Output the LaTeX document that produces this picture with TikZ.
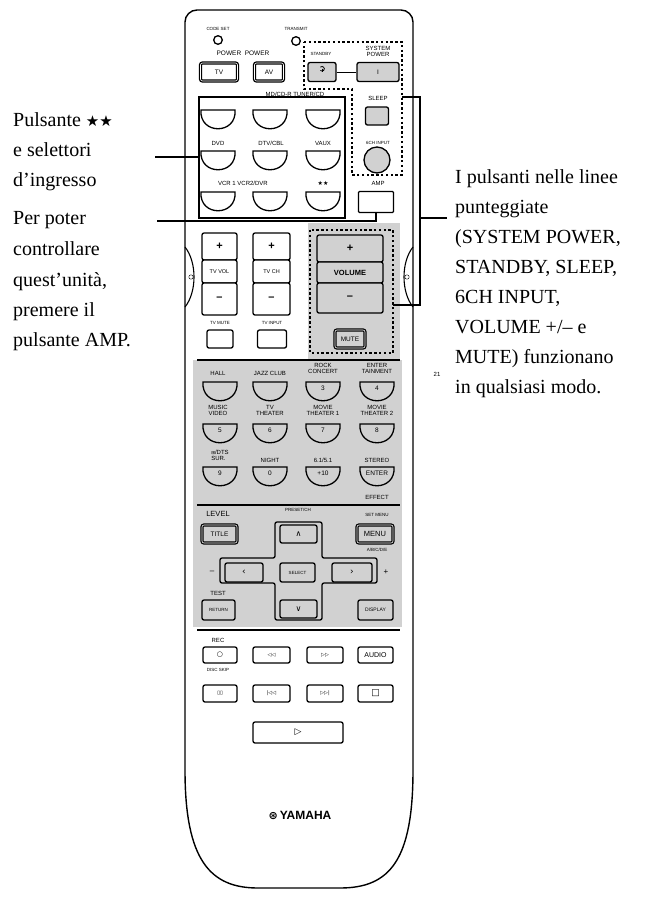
\documentclass[tikz,border=0pt]{standalone}
\usetikzlibrary{calc}
\usepackage{fontspec}
\setmainfont{Liberation Serif}
\setsansfont{Liberation Sans}
\newfontfamily\djv{DejaVu Sans}
\definecolor{g}{gray}{0.82}
\begin{document}
\begin{tikzpicture}[x=1pt,y=-1pt,
  lbl/.style={font=\sffamily\fontsize{6}{6}\selectfont, inner sep=0},
  rb/.style={draw, line width=1.3pt, rounded corners=2pt, fill=white, font=\sffamily\fontsize{6.5}{6.5}\selectfont, inner sep=0},
  big/.style={font=\sffamily\fontsize{11}{11}\selectfont\bfseries},
  callout/.style={line width=1.3pt},
  dots/.style={line width=2pt, dash pattern=on 2.4pt off 2.4pt},
  txt/.style={font=\fontsize{20}{22}\selectfont, anchor=base west, inner sep=0},
  ubs/.style={line width=1.3pt}]
\useasboundingbox (0,0) rectangle (648,903);
\newcommand\ub[3]{\draw[ubs,fill=#3] ({#1-17},#2) -- ({#1+17},#2) .. controls ({#1+19},{#2+25}) and ({#1-19},{#2+25}) .. cycle;}
% body
\draw[line width=1.4pt] (413,770) [rounded corners=12pt]-- (413,10) -- (185,10) [sharp corners]-- (185,770)
  .. controls (185,860) and (210,888) .. (258,888) -- (340,888) .. controls (390,888) and (413,860) .. (413,770);
% grey areas
\fill[g] (308,223) rectangle (400,360);
\fill[g] (193,360) rectangle (402,627);
% side notches
\draw[line width=1.1pt] (185,247) .. controls (197,262) and (197,292) .. (185,307);
\draw (191,277) circle (2.2);
\draw[line width=1.1pt] (413,247) .. controls (401,262) and (401,292) .. (413,307);
\draw (407,277) circle (2.2);
% top
\node[lbl,font=\sffamily\fontsize{4.5}{4.5}\selectfont] (cs) at (218,29) {CODE SET};
\draw[line width=1.3pt] (218,40) circle (4.3);
\node[lbl,font=\sffamily\fontsize{4.5}{4.5}\selectfont] (tr) at (296,29) {TRANSMIT};
\draw[line width=1.3pt] (296,41) circle (4.3);
\node[lbl,font=\sffamily\fontsize{6.5}{6.5}\selectfont] (pp) at (243,53) {POWER\ \ POWER};
\node[rb,minimum width=37,minimum height=18,double,double distance=0.6pt] (tv) at (219,72) {TV};
\node[rb,minimum width=29,minimum height=18,double,double distance=0.6pt] (av) at (269,72) {AV};
\node[lbl,font=\sffamily\fontsize{4.5}{4.5}\selectfont] (sbl) at (321,54) {STANDBY};
\node[lbl,align=center] (spl) at (378,51) {SYSTEM\\POWER};
\node[rb,fill=g,minimum width=28,minimum height=19] (sb) at (322,72) {};
\draw[line width=0.8pt] ($(sb)+(-1.6,-1.6)$) arc (135:-135:2.3);
\draw[line width=0.8pt] ($(sb)+(0,-3.5)$) -- ($(sb)+(0,-0.5)$);
\node[rb,fill=g,minimum width=42,minimum height=19] (sp) at (378,72) {I};
\draw (sb) -- (sp);
\draw[dots] (304,42) -- (402,42) -- (402,175) -- (352,175) -- (352,89) -- (304,89) -- cycle;
% input selector box
\draw[line width=1.6pt] (199,97) rectangle (345,218);
\node[lbl] (l1) at (295,94) {MD/CD-R TUNER/CD};
\node[lbl] (l2a) at (218,143) {DVD};
\node[lbl] (l2b) at (271,143) {DTV/CBL};
\node[lbl] (l2c) at (323,143) {VAUX};
\node[lbl] (l3a) at (243,183) {VCR 1 VCR2/DVR};
\node[lbl] (l3c) at (323,183) {\djv\fontsize{6}{6}\selectfont ★★};
\foreach \x in {218,270,323}{\ub{\x}{110}{white}\ub{\x}{151}{white}\ub{\x}{192}{white}}
% sleep / 6ch / amp
\node[lbl] (sll) at (378,98) {SLEEP};
\node[rb,fill=g,minimum width=23,minimum height=18] (sl) at (377,116) {};
\node[lbl,font=\sffamily\fontsize{4.5}{4.5}\selectfont] (chl) at (378,143) {6CH INPUT};
\node[draw,line width=1.3pt,fill=g,circle,minimum size=26] (ch) at (377,160) {};
\node[lbl] (ampl) at (378,183) {AMP};
\node[rb,rounded corners=1pt,minimum width=35,minimum height=21] (amp) at (376,202) {};
% TV vol / ch
\foreach \x/\t/\w in {219.5/TV VOL/35, 271.5/TV CH/37}{
  \node[rb,minimum width=\w,minimum height=27,big] at (\x,246.5) {+};
  \node[rb,minimum width=\w,minimum height=23,font=\sffamily\fontsize{5.5}{5.5}\selectfont] at (\x,271.5) {\t};
  \node[rb,minimum width=\w,minimum height=32,big] at (\x,299) {--};}
\node[lbl,font=\sffamily\fontsize{4.5}{4.5}\selectfont] (tml) at (220,323) {TV MUTE};
\node[lbl,font=\sffamily\fontsize{4.5}{4.5}\selectfont] (til) at (272,323) {TV INPUT};
\node[rb,minimum width=26,minimum height=18] (tm) at (220,339) {};
\node[rb,minimum width=29,minimum height=18] (ti) at (272,339) {};
% volume
\node[rb,fill=g,minimum width=66,minimum height=27,big] (vp) at (350,248.5) {+};
\node[rb,fill=g,minimum width=66,minimum height=21,font=\sffamily\fontsize{7.5}{7.5}\selectfont\bfseries] (vv) at (350,272.5) {VOLUME};
\node[rb,fill=g,minimum width=66,minimum height=30,big] (vm) at (350,298) {--};
\node[rb,fill=g,minimum width=30,minimum height=18,double,double distance=0.6pt,font=\sffamily\fontsize{6.5}{6.5}\selectfont] (mute) at (350,339) {MUTE};
\draw[dots] (310,230) rectangle (393,353);
% callouts
\coordinate (c1) at (155,157);
\coordinate (c1e) at (199,157);
\draw[callout] (c1) -- (c1e);
\coordinate (c2) at (157,221);
\coordinate (c2e) at (376,221);
\draw[callout] (c2) -- (c2e) -- (amp.south);
\coordinate (r1) at (402,97);
\coordinate (r2) at (420,97);
\coordinate (r3) at (420,305);
\coordinate (r4) at (393,305);
\coordinate (r5) at (420,218);
\coordinate (r6) at (447,218);
\draw[callout] (r1) -- (r2) -- (r3) -- (r4);
\draw[callout] (r5) -- (r6);
% separators
\draw[line width=1.3pt] (197,360) -- (400,360);
% mode rows
\node[lbl] at (218,373) {HALL};
\node[lbl] at (270,373) {JAZZ CLUB};
\node[lbl,align=center] at (323,368) {ROCK\\CONCERT};
\node[lbl,align=center] at (377,368) {ENTER\\TAINMENT};
\node[lbl,align=center] at (218,410) {MUSIC\\VIDEO};
\node[lbl,align=center] at (270,410) {TV\\THEATER};
\node[lbl,align=center] at (323,410) {MOVIE\\THEATER 1};
\node[lbl,align=center] at (377,410) {MOVIE\\THEATER 2};
\node[lbl,align=left] at (220,455) {{\djv\fontsize{4.5}{4.5}\selectfont ⊞}/DTS\\SUR.};
\node[lbl] at (270,460) {NIGHT};
\node[lbl] at (323,460) {6.1/5.1};
\node[lbl] at (377,460) {STEREO};
\node[lbl] at (377,497) {EFFECT};
\foreach \x/\a/\b/\c in {220//5/9, 270//6/0, 323/3/7/+10, 377/4/8/ENTER}{
  \ub{\x}{382}{g}\ub{\x}{424}{g}\ub{\x}{467}{g}
  \node[lbl,font=\sffamily\fontsize{6.5}{6.5}\selectfont] at (\x,388) {\a};
  \node[lbl,font=\sffamily\fontsize{6.5}{6.5}\selectfont] at (\x,430) {\b};
  \node[lbl,font=\sffamily\fontsize{6.5}{6.5}\selectfont] at (\x,473) {\c};}
\draw[line width=1.3pt] (197,505) -- (400,505);
% navigation
\node[lbl,font=\sffamily\fontsize{7.5}{7.5}\selectfont] at (218,514) {LEVEL};
\node[lbl,font=\sffamily\fontsize{4.5}{4.5}\selectfont] at (298,510) {PRESET/CH};
\node[lbl,font=\sffamily\fontsize{4.5}{4.5}\selectfont] at (377,515) {SET MENU};
\node[lbl,font=\sffamily\fontsize{4.5}{4.5}\selectfont] at (377,550) {A/B/C/D/E};
\node[rb,fill=g,minimum width=35,minimum height=18,double,double distance=0.6pt] (title) at (219.5,534) {TITLE};
\node[rb,fill=g,minimum width=36,minimum height=18,double,double distance=0.6pt,font=\sffamily\fontsize{7.5}{7.5}\selectfont] (menu) at (375,534) {MENU};
\draw[line width=1.3pt,fill=g,rounded corners=2pt] (275,522) -- (322,522) -- (322,558) -- (377,558) -- (377,583) -- (322,583) -- (322,620) -- (275,620) -- (275,583) -- (220,583) -- (220,558) -- (275,558) -- cycle;
\node[rb,fill=g,minimum width=37,minimum height=18] (up) at (298.5,534) {\djv\fontsize{8}{8}\selectfont ∧};
\node[rb,fill=g,minimum width=38,minimum height=19] (lf) at (244,572.5) {\djv\fontsize{9}{9}\selectfont ‹};
\node[rb,fill=g,minimum width=35,minimum height=19,font=\sffamily\fontsize{4.5}{4.5}\selectfont] (sel) at (297.5,572.5) {SELECT};
\node[rb,fill=g,minimum width=40,minimum height=19] (rt) at (352,572.5) {\djv\fontsize{9}{9}\selectfont ›};
\node[rb,fill=g,minimum width=37,minimum height=18] (dn) at (298.5,609) {\djv\fontsize{8}{8}\selectfont ∨};
\node[lbl,font=\sffamily\fontsize{8}{8}\selectfont] at (212,572) {--};
\node[lbl,font=\sffamily\fontsize{8}{8}\selectfont] at (386,572) {+};
\node[lbl] at (218,593) {TEST};
\node[rb,fill=g,minimum width=33,minimum height=20,font=\sffamily\fontsize{4.5}{4.5}\selectfont] (ret) at (218.5,610) {RETURN};
\node[rb,fill=g,minimum width=35,minimum height=20,font=\sffamily\fontsize{5}{5}\selectfont] (disp) at (375.5,610) {DISPLAY};
\draw[line width=1.3pt] (197,630) -- (400,630);
% transport
\node[lbl] at (218,640) {REC};
\node[lbl,font=\sffamily\fontsize{4.5}{4.5}\selectfont] at (218,670) {DISC SKIP};
\node[rb,minimum width=34,minimum height=16] (rec) at (220,655) {\djv\fontsize{7}{7}\selectfont ○};
\node[rb,minimum width=37,minimum height=16] (rew) at (271.5,655) {\djv\fontsize{5}{5}\selectfont ◁◁};
\node[rb,minimum width=36,minimum height=16] (ff) at (325,655) {\djv\fontsize{5}{5}\selectfont ▷▷};
\node[rb,minimum width=35,minimum height=16,font=\sffamily\fontsize{7}{7}\selectfont] (aud) at (375.5,655) {AUDIO};
\node[rb,minimum width=34,minimum height=17] (pau) at (220,693.5) {\djv\fontsize{5}{5}\selectfont ▯▯};
\node[rb,minimum width=37,minimum height=17] (prv) at (271.5,693.5) {\djv\fontsize{5}{5}\selectfont |◁◁};
\node[rb,minimum width=36,minimum height=17] (nxt) at (325,693.5) {\djv\fontsize{5}{5}\selectfont ▷▷|};
\node[rb,minimum width=35,minimum height=17] (stp) at (375.5,693.5) {\djv\fontsize{9}{9}\selectfont □};
\node[rb,minimum width=90,minimum height=21] (play) at (298,732.5) {\djv\fontsize{9}{9}\selectfont ▷};
% logo
\node[inner sep=0,font=\sffamily\bfseries\fontsize{12}{12}\selectfont] (logo) at (300,815) {{\djv\fontsize{11}{11}\selectfont ⊛}\,YAMAHA};
\node[lbl,font=\sffamily\fontsize{6}{6}\selectfont] (pg) at (437,374) {21};
% texts
\node[txt] (t1) at (13,126) {Pulsante {\djv\fontsize{15}{15}\selectfont ★★}};
\node[txt] (t2) at (13,156) {e selettori};
\node[txt] (t3) at (13,186) {d’ingresso};
\node[txt] (t4) at (13,224) {Per poter};
\node[txt] (t5) at (13,255) {controllare};
\node[txt] (t6) at (13,286) {quest’unità,};
\node[txt] (t7) at (13,316) {premere il};
\node[txt] (t8) at (13,346) {pulsante AMP.};
\node[txt] (u1) at (455,183) {I pulsanti nelle linee};
\node[txt] (u2) at (455,213) {punteggiate};
\node[txt] (u3) at (455,243) {(SYSTEM POWER,};
\node[txt] (u4) at (455,273) {STANDBY, SLEEP,};
\node[txt] (u5) at (455,303) {6CH INPUT,};
\node[txt] (u6) at (455,333) {VOLUME +/-- e};
\node[txt] (u7) at (455,363) {MUTE) funzionano};
\node[txt] (u8) at (455,393) {in qualsiasi modo.};
\end{tikzpicture}
\end{document}
